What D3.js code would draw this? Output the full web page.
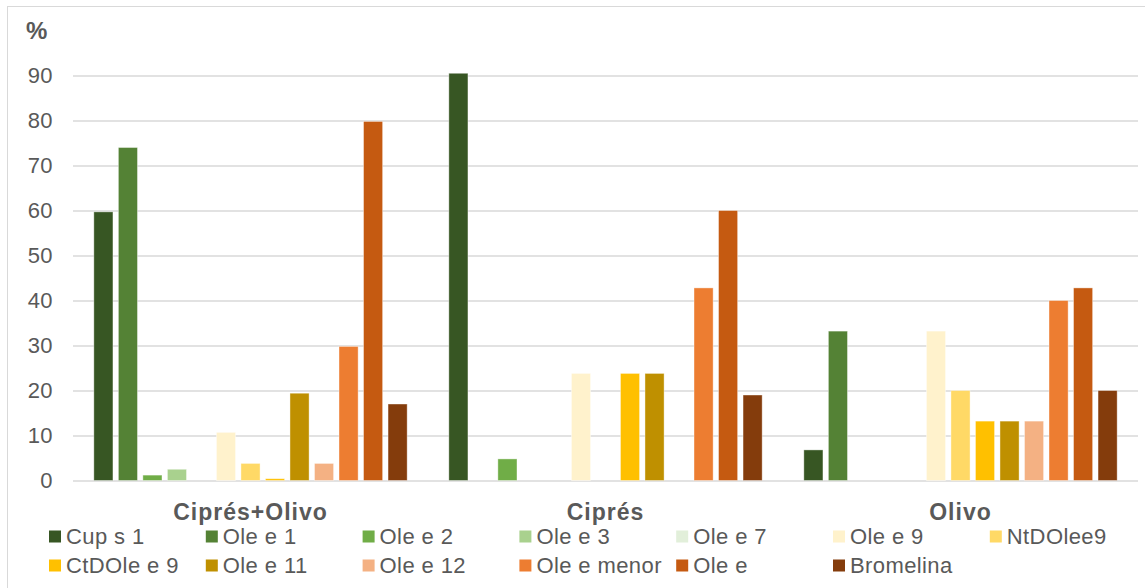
<!DOCTYPE html>
<html>
<head>
<meta charset="utf-8">
<script src="https://cdn.jsdelivr.net/npm/d3@7"></script>
<style>
  html, body { margin: 0; padding: 0; background: #fff; }
  svg { display: block; font-family: "Liberation Sans", Arial, sans-serif; }
</style>
</head>
<body>
<svg id="chart" width="1145" height="588"></svg>
<script>
// Sample groups along the x axis
const categories = ["Ciprés+Olivo", "Ciprés", "Olivo"];

// Allergen components (one bar per component in each group)
const seriesNames = ["Cup s 1", "Ole e 1", "Ole e 2", "Ole e 3", "Ole e 7", "Ole e 9",
  "NtDOlee9", "CtDOle e 9", "Ole e 11", "Ole e 12", "Ole e menor", "Ole e", "Bromelina"];

const seriesColors = ["#375623", "#548235", "#70AD47", "#A9D18E", "#E2EFDA", "#FFF2CC",
  "#FFD966", "#FFC000", "#BF9000", "#F4B183", "#ED7D31", "#C55A11", "#843C0C"];

// Percentages per group, in the order of seriesNames
const valuesCipresOlivo = [59.7, 74.0, 1.2, 2.5, 0, 10.7, 3.8, 0.4, 19.4, 3.8, 29.8, 79.8, 17.0];
const valuesCipres      = [90.5, 0, 4.8, 0, 0, 23.8, 0, 23.8, 23.8, 0, 42.8, 60.0, 19.0];
const valuesOlivo       = [6.8, 33.2, 0, 0, 0, 33.2, 20.0, 13.2, 13.2, 13.2, 40.0, 42.8, 20.0];

const yTicks = [0, 10, 20, 30, 40, 50, 60, 70, 80, 90];
const yLabel = "%";

const groupValues = [valuesCipresOlivo, valuesCipres, valuesOlivo];
const rows = categories.map((c, i) => ({
  category: c,
  bars: seriesNames.map((s, j) => ({ series: s, value: groupValues[i][j], color: seriesColors[j] }))
}));

const svg = d3.select("#chart");
const textColor = "#595959";
const gridColor = "#d9d9d9";

// Outer chart frame (runs past the right and bottom edges)
svg.append("rect")
  .attr("x", 7.5).attr("y", 6.5)
  .attr("width", 1160).attr("height", 600)
  .attr("fill", "#fff").attr("stroke", gridColor).attr("stroke-width", 1);

const plot = { left: 73, right: 1138, top: 75.5, bottom: 480.5 };

const y = d3.scaleLinear().domain([0, 90]).range([plot.bottom, plot.top]);
const x0 = d3.scaleBand().domain(categories).range([plot.left, plot.right]).padding(0);
const x1 = d3.scaleBand().domain(seriesNames).range([0, x0.bandwidth()])
  .paddingInner(0.22).paddingOuter(0.85);

// Horizontal gridlines and tick labels
const yAxis = d3.axisLeft(y).tickValues(yTicks).tickSize(-(plot.right - plot.left)).tickPadding(20);
const gAxis = svg.append("g").attr("transform", `translate(${plot.left},0)`).call(yAxis);
gAxis.select(".domain").remove();
gAxis.selectAll(".tick line").attr("stroke", gridColor).attr("stroke-width", 1.5);
gAxis.selectAll(".tick text")
  .attr("fill", textColor)
  .attr("font-size", 22)
  .attr("letter-spacing", 0.4)
  .attr("font-family", "'Liberation Sans', Arial, sans-serif");

// Unit label
svg.append("text")
  .attr("x", 26).attr("y", 39)
  .attr("font-size", 24).attr("font-weight", "bold")
  .attr("fill", textColor)
  .text(yLabel);

// Bars
const groups = svg.append("g").selectAll("g")
  .data(rows).join("g")
  .attr("transform", d => `translate(${x0(d.category)},0)`);

groups.selectAll("rect")
  .data(d => d.bars.filter(b => b.value > 0))
  .join("rect")
  .attr("x", d => x1(d.series))
  .attr("width", x1.bandwidth())
  .attr("y", d => y(d.value))
  .attr("height", d => y(0) - y(d.value))
  .attr("fill", d => d.color)
  .attr("stroke", "#ffffff")
  .attr("stroke-opacity", 0.5)
  .attr("stroke-width", 0.8);

// Category labels
svg.append("g").selectAll("text")
  .data(categories).join("text")
  .attr("x", d => x0(d) + x0.bandwidth() / 2)
  .attr("y", 520)
  .attr("text-anchor", "middle")
  .attr("font-size", 23).attr("font-weight", "bold")
  .attr("letter-spacing", 1)
  .attr("fill", textColor)
  .text(d => d);

// Legend: seven columns, two rows
const legendCols = 7;
const legendX = d3.scaleLinear().domain([0, 1]).range([49, 49 + 156.8]);
const legendRowY = [536.5, 565.5];
const legend = svg.append("g").selectAll("g")
  .data(seriesNames.map((s, i) => ({ name: s, color: seriesColors[i], i })))
  .join("g")
  .attr("transform", d => `translate(${legendX(d.i % legendCols)},${legendRowY[Math.floor(d.i / legendCols)]})`);

legend.append("rect")
  .attr("x", 0).attr("y", -6)
  .attr("width", 12).attr("height", 12)
  .attr("fill", d => d.color);

legend.append("text")
  .attr("x", 17).attr("y", 0)
  .attr("dy", "0.36em")
  .attr("font-size", 22)
  .attr("letter-spacing", 0.4)
  .attr("fill", textColor)
  .text(d => d.name);
</script>
</body>
</html>
